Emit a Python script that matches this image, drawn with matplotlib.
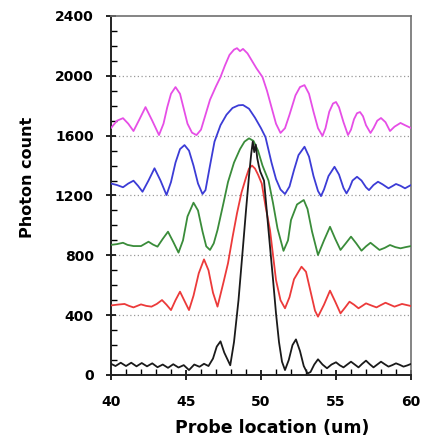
import matplotlib.pyplot as plt
from matplotlib.ticker import MultipleLocator

# values (probe location in um, photon count)
magenta_x = [40.0, 40.4, 40.8, 41.15, 41.5, 41.9, 42.3, 42.75, 43.2, 43.5, 43.75, 44.0, 44.3, 44.6, 44.85,
             45.1, 45.4, 45.7, 46.0, 46.3, 46.6, 47.0, 47.3, 47.6, 47.9, 48.2, 48.4, 48.6, 48.8, 49.1,
             49.4, 49.7, 50.1, 50.4, 50.7, 51.0, 51.3, 51.6, 51.9, 52.3, 52.6, 52.9, 53.2, 53.5, 53.8,
             54.1, 54.3, 54.55, 54.8, 55.0, 55.2, 55.5, 55.8, 56.0, 56.2, 56.4, 56.6, 56.8, 57.0, 57.3,
             57.5, 57.75, 58.0, 58.3, 58.6, 58.9, 59.3, 59.6, 60.0]
magenta_y = [1651, 1700, 1717, 1680, 1631, 1710, 1791, 1700, 1604, 1680, 1790, 1880, 1925, 1880, 1780,
             1680, 1620, 1604, 1640, 1740, 1840, 1930, 1992, 2070, 2140, 2175, 2185, 2165, 2180, 2150,
             2100, 2050, 1992, 1900, 1790, 1680, 1618, 1650, 1740, 1870, 1925, 1938, 1880, 1760, 1650,
             1598, 1650, 1760, 1815, 1825, 1790, 1690, 1604, 1640, 1710, 1750, 1758, 1730, 1670, 1618,
             1650, 1700, 1718, 1690, 1631, 1660, 1685, 1670, 1651]

blue_x = [40.0, 40.4, 40.8, 41.15, 41.5, 41.8, 42.1, 42.5, 42.9, 43.3, 43.7, 44.0, 44.3, 44.6, 44.9,
          45.2, 45.5, 45.8, 46.1, 46.3, 46.6, 46.9, 47.3, 47.7, 48.1, 48.5, 48.8, 49.2, 49.6, 50.0,
          50.3, 50.7, 51.0, 51.3, 51.6, 51.9, 52.2, 52.5, 52.9, 53.2, 53.5, 53.8, 54.0, 54.2, 54.5,
          54.9, 55.2, 55.5, 55.7, 55.9, 56.1, 56.4, 56.7, 57.0, 57.2, 57.5, 57.8, 58.1, 58.5, 58.8,
          59.0, 59.3, 59.6, 60.0]
blue_y = [1280, 1270, 1255, 1280, 1299, 1265, 1225, 1300, 1382, 1300, 1203, 1290, 1420, 1510, 1537,
          1500, 1400, 1280, 1210, 1236, 1400, 1560, 1670, 1740, 1785, 1803, 1805, 1780, 1720, 1650,
          1590, 1420, 1310, 1240, 1210, 1260, 1370, 1470, 1526, 1460, 1330, 1230, 1196, 1240, 1330,
          1392, 1340, 1250, 1214, 1250, 1300, 1325, 1300, 1255, 1236, 1270, 1292, 1275, 1248, 1265,
          1277, 1265, 1248, 1270]

green_x = [40.0, 40.4, 40.8, 41.1, 41.5, 42.0, 42.5, 42.8, 43.1, 43.45, 43.8, 44.15, 44.5, 44.8, 45.1,
           45.5, 45.8, 46.1, 46.35, 46.6, 46.85, 47.1, 47.5, 47.8, 48.2, 48.6, 48.9, 49.2, 49.5, 49.8,
           50.1, 50.5, 50.8, 51.1, 51.5, 51.8, 52.0, 52.4, 52.85, 53.1, 53.4, 53.8, 54.2, 54.6, 54.95,
           55.3, 55.65, 56.0, 56.35, 56.7, 57.0, 57.3, 57.6, 57.9, 58.25, 58.6, 58.95, 59.3, 59.65, 60.0]
green_y = [870, 875, 884, 870, 862, 862, 891, 872, 858, 910, 958, 890, 818, 900, 1060,
           1152, 1100, 960, 860, 836, 880, 969, 1150, 1290, 1420, 1510, 1560, 1582, 1565, 1500,
           1400, 1300, 1150, 980, 830, 900, 1036, 1140, 1170, 1110, 960, 802, 900, 991, 910,
           836, 880, 925, 880, 831, 860, 884, 860, 836, 850, 869, 855, 847, 855, 862]

red_x = [40.0, 40.4, 40.9, 41.2, 41.5, 42.0, 42.35, 42.7, 43.05, 43.4, 43.7, 44.0, 44.3, 44.6, 44.9,
         45.2, 45.5, 45.85, 46.2, 46.5, 46.8, 47.1, 47.5, 47.8, 48.1, 48.4, 48.7, 49.0, 49.2, 49.4,
         49.6, 49.8, 50.05, 50.3, 50.6, 51.0, 51.3, 51.6, 51.9, 52.2, 52.7, 53.0, 53.3, 53.6, 53.8,
         54.2, 54.6, 54.95, 55.3, 55.6, 55.9, 56.2, 56.5, 56.75, 57.0, 57.35, 57.7, 58.0, 58.3, 58.6,
         58.9, 59.15, 59.4, 59.7, 60.0]
red_y = [465, 470, 475, 462, 452, 472, 462, 457, 475, 501, 470, 434, 500, 557, 495,
         434, 530, 680, 773, 700, 550, 457, 620, 747, 920, 1081, 1220, 1320, 1380, 1400,
         1380, 1340, 1280, 1130, 969, 635, 500, 446, 520, 640, 724, 690, 560, 430, 390,
         470, 564, 490, 412, 450, 490, 470, 446, 462, 479, 465, 452, 468, 483, 470,
         457, 466, 475, 468, 461]

black_x = [40.0, 40.3, 40.65, 41.0, 41.35, 41.7, 42.05, 42.4, 42.75, 43.1, 43.45, 43.8, 44.15, 44.5, 44.85,
           45.2, 45.55, 45.9, 46.2, 46.5, 46.8, 47.05, 47.3, 47.55, 47.95, 48.2, 48.5, 48.8, 49.0, 49.2,
           49.35, 49.45, 49.55, 49.65, 49.75, 49.85, 49.95, 50.2, 50.4, 50.6, 50.8, 51.0, 51.2, 51.4, 51.6,
           51.85, 52.1, 52.33, 52.6, 52.85, 53.1, 53.3, 53.55, 53.8, 54.1, 54.4, 54.7, 55.0, 55.25, 55.5,
           55.75, 56.0, 56.25, 56.5, 56.75, 57.0, 57.25, 57.5, 57.75, 58.0, 58.25, 58.5, 58.75, 59.0, 59.25,
           59.5, 59.75, 60.0]
black_y = [75, 60, 82, 60, 82, 58, 80, 58, 78, 52, 70, 48, 72, 50, 66,
           33, 70, 55, 75, 60, 110, 190, 225, 150, 65, 220, 500, 858, 1100, 1330,
           1480, 1560, 1490, 1540, 1450, 1400, 1360, 1300, 1080, 858, 640, 412, 220, 89, 33,
           100, 200, 238, 160, 60, 10, 20, 70, 105, 70, 45, 70, 85, 65, 51,
           70, 89, 70, 51, 75, 96, 72, 51, 70, 89, 72, 56, 66, 78, 68,
           56, 64, 74]

curves = [
    (magenta_x, magenta_y, "#e64ee6"),
    (blue_x, blue_y, "#3c3cd6"),
    (green_x, green_y, "#3a8c3a"),
    (red_x, red_y, "#ec3a3a"),
    (black_x, black_y, "#1a1a1a"),
]

plt.rcParams["font.family"] = "DejaVu Sans"
plt.rcParams["font.weight"] = "bold"

fig = plt.figure(figsize=(4.28, 4.43), dpi=100)
ax = fig.add_axes([111 / 428, 68 / 443, 300 / 428, 359 / 443])

for gy in [400, 800, 1200, 1600, 2000]:
    ax.axhline(gy, color="#9a9a9a", lw=0.9, ls=(0, (1, 2)), zorder=1)

for xs, ys, col in curves:
    ax.plot(xs, ys, color=col, lw=1.3, zorder=3,
            solid_joinstyle="round", solid_capstyle="round")

ax.set_xlim(40, 60)
ax.set_ylim(0, 2400)
ax.xaxis.set_major_locator(MultipleLocator(5))
ax.xaxis.set_minor_locator(MultipleLocator(1))
ax.yaxis.set_major_locator(MultipleLocator(400))
ax.yaxis.set_minor_locator(MultipleLocator(100))

ax.tick_params(which="major", direction="inout", length=7, width=1.2, labelsize=10)
ax.tick_params(axis="x", which="major", pad=11)
ax.tick_params(axis="y", which="major", pad=9)
ax.tick_params(which="minor", direction="in", length=4, width=1)
for lab in ax.get_xticklabels() + ax.get_yticklabels():
    lab.set_fontweight("bold")

for side in ["left", "bottom"]:
    ax.spines[side].set_linewidth(1.4)
    ax.spines[side].set_color("#222222")
for side in ["right", "top"]:
    ax.spines[side].set_linewidth(1.2)
    ax.spines[side].set_color("#707070")

fig.text(272 / 428, 1 - 428 / 443, "Probe location (um)", ha="center", va="center",
         fontsize=12.5, fontweight="bold")
fig.text(28 / 428, 1 - 177 / 443, "Photon count", ha="center", va="center",
         rotation=90, fontsize=11.5, fontweight="bold")

fig.savefig("out.png", dpi=100)
